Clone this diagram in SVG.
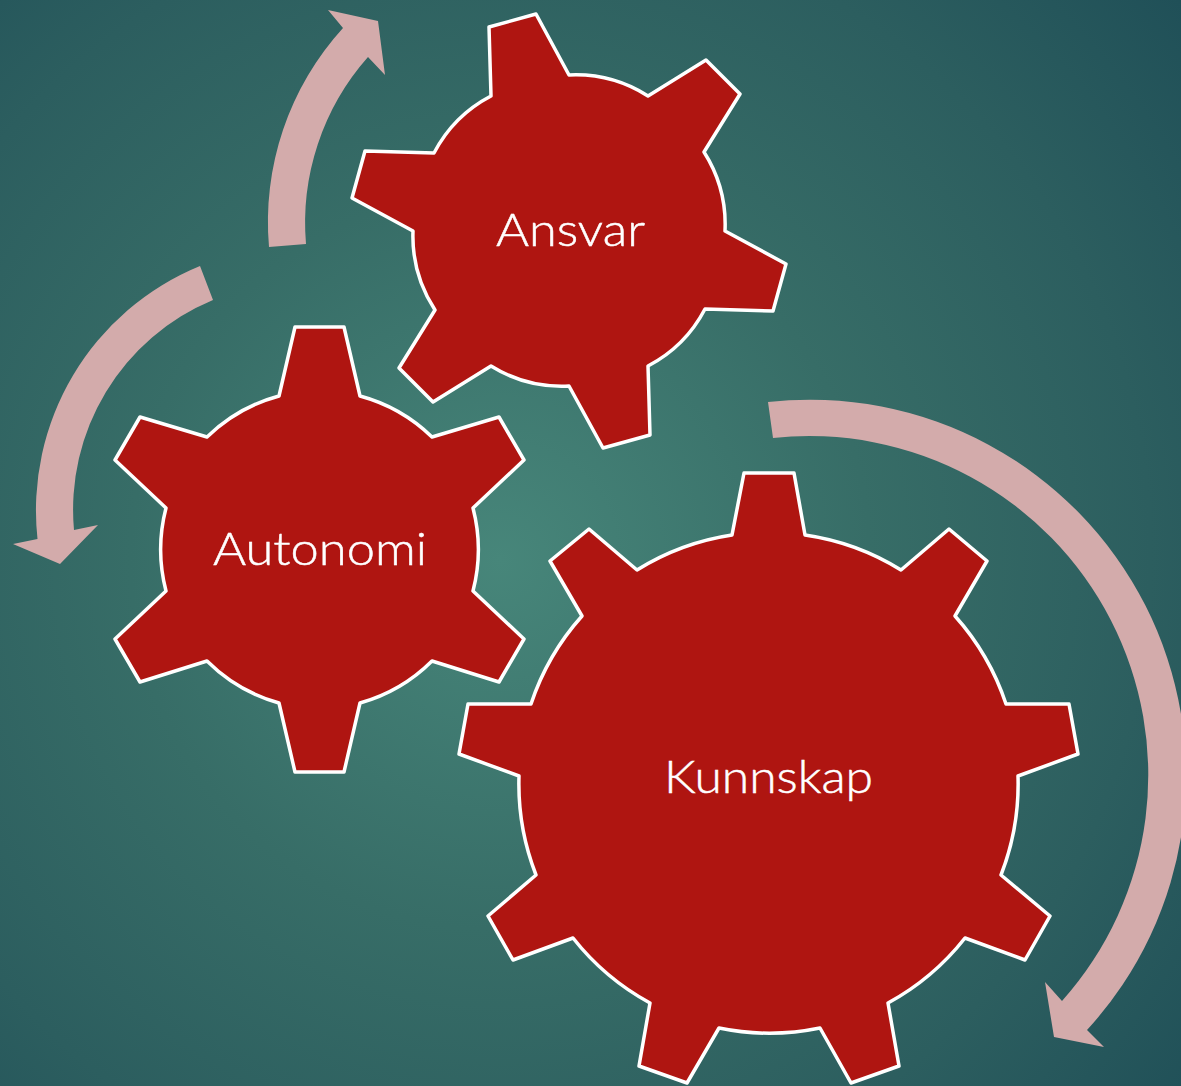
<svg xmlns="http://www.w3.org/2000/svg" width="1181" height="1086" viewBox="0 0 1181 1086">
<defs>
<radialGradient id="bg" gradientUnits="userSpaceOnUse" cx="500" cy="560" r="880">
<stop offset="0" stop-color="#47867a"/>
<stop offset="0.42" stop-color="#376d67"/>
<stop offset="0.74" stop-color="#2c5e5f"/>
<stop offset="1" stop-color="#205058"/>
</radialGradient>
</defs>
<style>
.gear{fill:#af1511;stroke:#fff;stroke-width:3.5;stroke-linejoin:round}
.lbl{fill:#fff;stroke:#fff;stroke-width:0.5;font-family:"Lato","Open Sans","Liberation Sans",sans-serif;font-weight:300;text-anchor:middle}
.arr{fill:#d3abab}
</style>
<rect width="1181" height="1086" fill="url(#bg)"/>
<g id="connectors">
<path class="arr" d="M269 247A288 288 0 0 1 343 28L328 10L378 21L385 75L368 57A250 250 0 0 0 306 244Z"/>
<path class="arr" d="M200 266L213 300A227 227 0 0 0 74 530L98 525L60 564L13 544L37.500 539A264 264 0 0 1 200 266Z"/>
<path class="arr" d="M768 402A376 376 0 0 1 1087 1030L1104 1047L1054 1037L1045 982L1062 1001A339 339 0 0 0 773 438Z"/>
</g>
<g id="ansvar">
<path class="gear" d="M491 96L489 27L536 14L569 75A135 135 0 0 1 648 96L706 60L740 94L704 152A135 135 0 0 1 725 231L786 264L773 311L705 309A135 135 0 0 1 648 366L650 435L603 448L569 386A135 135 0 0 1 491 366L433 402L399 368L435 310A135 135 0 0 1 413 231L352 198L365 151L434 153A135 135 0 0 1 491 96Z"/>
<text class="lbl" x="570.500" y="246" font-size="46" textLength="149" lengthAdjust="spacingAndGlyphs">Ansvar</text>
</g>
<g id="autonomi">
<path class="gear" d="M279 396L295 327L344 327L360 396A165 165 0 0 1 432 437L499 417L524 460L473 508A165 165 0 0 1 473 591L524 639L499 682L432 661A165 165 0 0 1 360 703L344 772L295 772L279 703A165 165 0 0 1 207 661L140 682L115 639L166 591A165 165 0 0 1 166 508L115 460L140 417L207 437A165 165 0 0 1 279 396Z"/>
<text class="lbl" x="320" y="565" font-size="46" textLength="214" lengthAdjust="spacingAndGlyphs">Autonomi</text>
</g>
<g id="kunnskap">
<path class="gear" d="M732 535L744 473L794 473L805 535A250 250 0 0 1 901 570L949 529L987 561L955 616A250 250 0 0 1 1006 704L1069 704L1078 754L1018 776A250 250 0 0 1 1001 875L1050 916L1025 960L965 938A250 250 0 0 1 888 1003L899 1066L851 1083L820 1028A250 250 0 0 1 719 1028L687 1083L639 1066L650 1003A250 250 0 0 1 573 938L513 960L488 916L536 875A250 250 0 0 1 519 776L459 754L468 704L531 704A250 250 0 0 1 582 616L550 561L589 529L637 570A250 250 0 0 1 732 535Z"/>
<text class="lbl" x="768.500" y="793" font-size="46" textLength="209" lengthAdjust="spacingAndGlyphs">Kunnskap</text>
</g>
</svg>
